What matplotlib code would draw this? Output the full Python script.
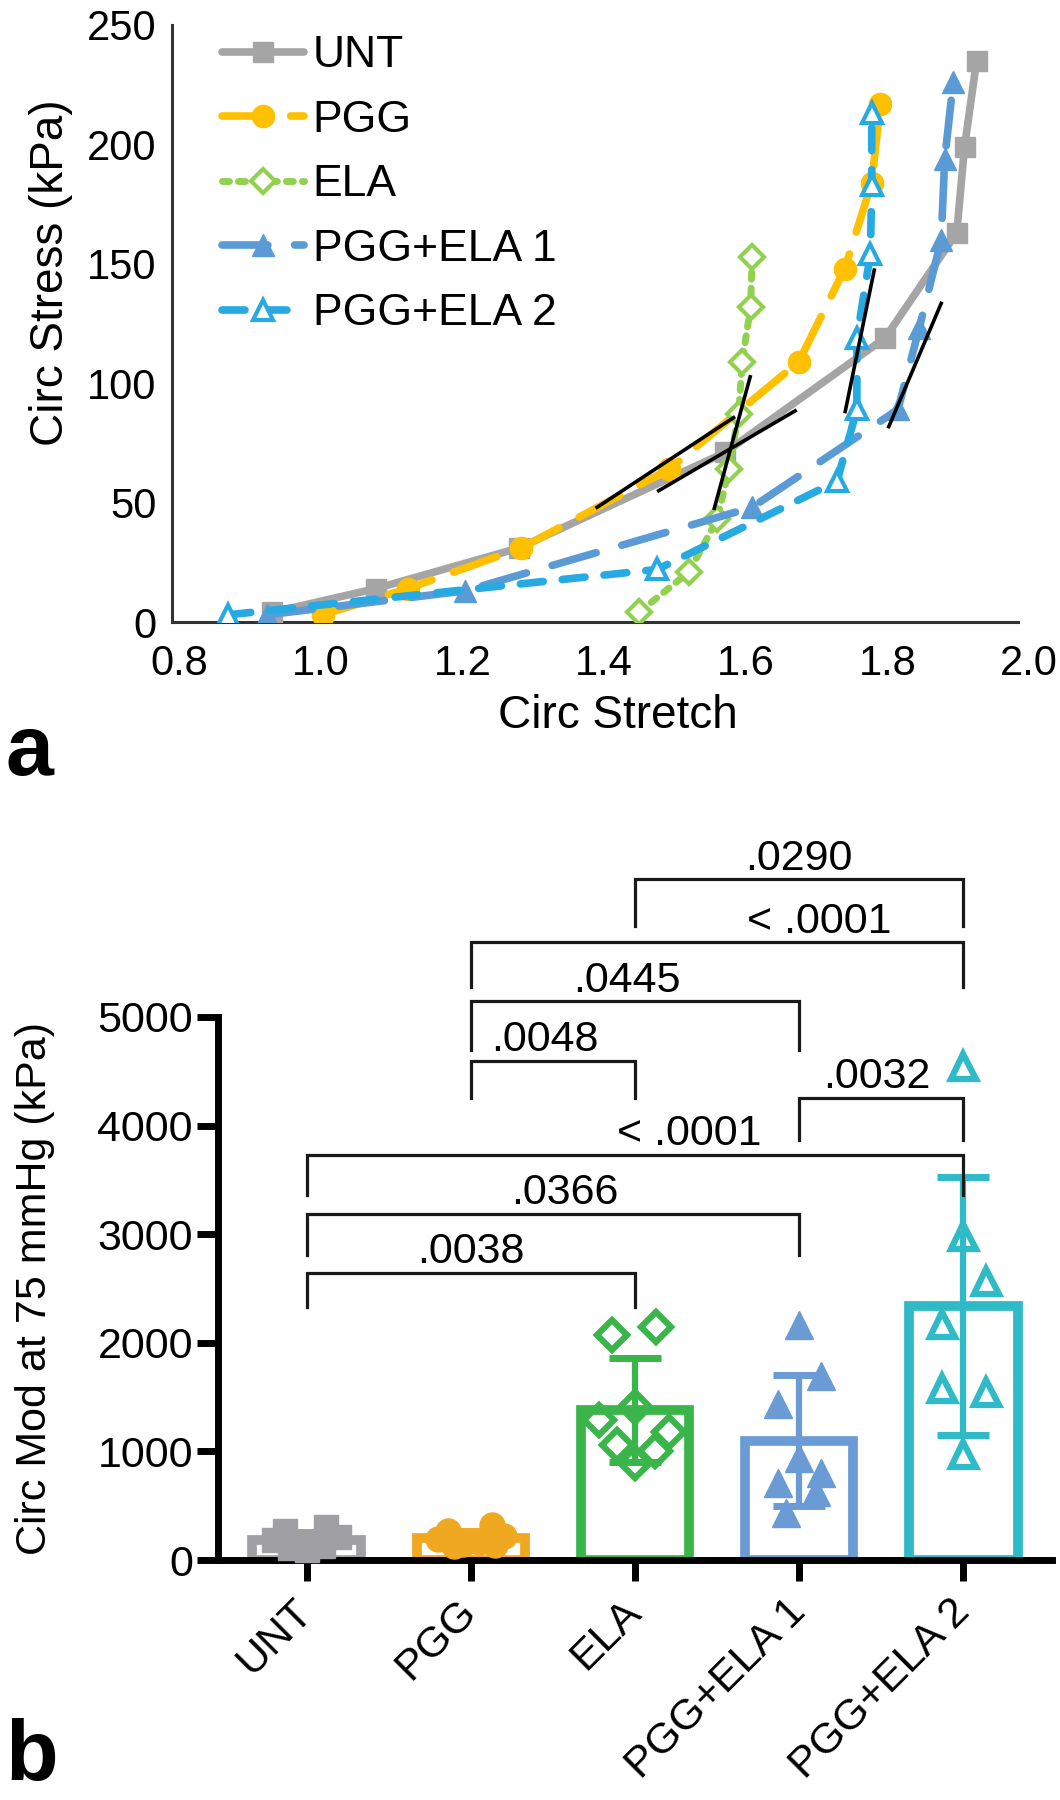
import matplotlib
matplotlib.use('Agg')
import matplotlib.pyplot as plt
import numpy as np

plt.rcParams['font.family'] = ['Liberation Sans', 'DejaVu Sans']

# ---------------- Panel a data ----------------
unt_x = [0.931, 1.078, 1.280, 1.571, 1.797, 1.898, 1.909, 1.926]
unt_y = [4, 14, 31, 71, 119, 163, 199, 235]
pgg_x = [1.003, 1.123, 1.283, 1.492, 1.675, 1.740, 1.778, 1.790]
pgg_y = [3, 14, 31, 64, 109, 148, 184, 217]
ela_x = [1.449, 1.520, 1.560, 1.576, 1.590, 1.595, 1.607, 1.609]
ela_y = [4, 21, 43, 64, 87, 109, 132, 153]
pe1_x = [0.924, 1.203, 1.609, 1.815, 1.845, 1.876, 1.881, 1.893]
pe1_y = [3, 13, 48, 89, 123, 160, 194, 226]
pe2_x = [0.869, 1.475, 1.729, 1.757, 1.757, 1.776, 1.778, 1.778]
pe2_y = [3, 22, 59, 89, 119, 154, 183, 213]
tangent_x = [[1.388, 1.585], [1.475, 1.672], [1.555, 1.607], [1.740, 1.782], [1.801, 1.877]]
tangent_y = [[47.6, 86.0], [54.6, 88.8], [46.9, 103.4], [87.4, 148.1], [81.1, 134.1]]
stretch_ticks = [0.8, 1.0, 1.2, 1.4, 1.6, 1.8, 2.0]
stress_ticks = [0, 50, 100, 150, 200, 250]

# ---------------- Panel b data ----------------
groups = ['UNT', 'PGG', 'ELA', 'PGG+ELA 1', 'PGG+ELA 2']
mod_unt = [300, 270, 210, 180, 150, 130, 110, 90]
mod_pgg = [320, 265, 220, 190, 170, 150, 140, 130]
mod_ela = [2150, 2070, 1410, 1290, 1180, 1060, 1000, 890]
mod_pe1 = [2160, 1690, 1440, 940, 800, 710, 630, 430]
mod_pe2 = [4550, 2980, 2570, 2170, 1580, 1550, 980]
mod_ticks = [0, 1000, 2000, 3000, 4000, 5000]

bracket_left = [2, 1, 1, 1, 3, 0, 0, 0]
bracket_right = [4, 4, 3, 2, 4, 4, 3, 2]
bracket_top = [6267, 5687, 5143, 4599, 4258, 3733, 3189, 2645]
bracket_foot = [5837, 5272, 4700, 4258, 3871, 3364, 2811, 2332]
bracket_text = ['.0290', '< .0001', '.0445', '.0048', '.0032', '< .0001', '.0366', '.0038']

# ---------------- layout / style (not data) ----------------
W, H = 1060, 1800
jitter = [
    [0.12, -0.13, 0.2, -0.2, 0.0, 0.1, -0.1, 0.0],
    [0.13, -0.14, 0.2, -0.2, 0.05, -0.05, 0.15, -0.1],
    [0.13, -0.14, 0.0, -0.22, 0.21, -0.11, 0.12, 0.0],
    [0.0, 0.13, -0.13, 0.0, 0.13, -0.13, 0.1, -0.08],
    [0.0, 0.0, 0.14, -0.13, -0.13, 0.14, 0.0],
]
label_x = [3.0, 3.12, 1.95, 1.45, 3.47, 2.33, 1.57, 1.0]

fig = plt.figure(figsize=(W / 100, H / 100), dpi=100)

# ================= Panel a =================
ax1 = fig.add_axes([172 / W, 1 - 622 / H, 857 / W, 597 / H])
ax1.set_xlim(0.79, 2.0)
ax1.set_ylim(0, 250)

ax1.plot(unt_x, unt_y, color='#A5A5A5', lw=5.5, marker='s', ms=15,
         solid_capstyle='round', label='UNT', zorder=3)
ax1.plot(pgg_x, pgg_y, color='#FFC000', lw=5.5, ls=(0, (6, 3)), marker='o', ms=16,
         dash_capstyle='round', label='PGG', zorder=3)
ax1.plot(ela_x, ela_y, color='#92D050', lw=5, ls=(0, (1, 1.3)), marker='D', ms=12,
         mfc='white', mec='#92D050', mew=3, dash_capstyle='round', label='ELA', zorder=3)
ax1.plot(pe1_x, pe1_y, color='#5B9BD5', lw=5.5, ls=(0, (6, 3.5)), marker='^', ms=16,
         dash_capstyle='round', label='PGG+ELA 1', zorder=3)
ax1.plot(pe2_x, pe2_y, color='#27AAE1', lw=5.5, ls=(0, (3, 2.5)), marker='^', ms=15,
         mfc='white', mec='#27AAE1', mew=3, dash_capstyle='round', label='PGG+ELA 2', zorder=3)
for tx, ty in zip(tangent_x, tangent_y):
    ax1.plot(tx, ty, color='black', lw=2.6, zorder=5, solid_capstyle='butt')

for s in ['top', 'right']:
    ax1.spines[s].set_visible(False)
for s in ['left', 'bottom']:
    ax1.spines[s].set_color('#333333')
    ax1.spines[s].set_linewidth(2.2)
ax1.spines['bottom'].set_bounds(0.79, 1.985)
ax1.set_xticks(stretch_ticks)
ax1.set_xticklabels(['%.1f' % v for v in stretch_ticks])
ax1.set_yticks(stress_ticks)
ax1.tick_params(axis='both', length=0, labelsize=30)
ax1.tick_params(axis='x', pad=16)
ax1.tick_params(axis='y', pad=11)
ax1.set_xlabel('Circ Stretch', fontsize=33)
ax1.xaxis.set_label_coords(0.52, -0.12)
ax1.set_ylabel('Circ Stress (kPa)', fontsize=33)
ax1.yaxis.set_label_coords(-0.1155, 0.585)

ax1.legend(loc='upper left', bbox_to_anchor=(0.058, 0.983), frameon=False,
           fontsize=32, handlelength=1.85, handletextpad=0.2, labelspacing=0.53,
           borderpad=0, borderaxespad=0, numpoints=1)

# ================= Panel b =================
ax2 = fig.add_axes([218 / W, 1 - 1560 / H, 834 / W, 543 / H])
ax2.set_xlim(-0.54, 4.54)
ax2.set_ylim(0, 5000)

colors = ['#A0A0A4', '#F0A821', '#3AB54A', '#6A9BD4', '#2EBAC6']
datasets = [mod_unt, mod_pgg, mod_ela, mod_pe1, mod_pe2]
markers = ['s', 'o', 'D', '^', '^']
filled = [True, True, False, True, False]
msizes = [17, 18, 15, 20, 18]
xpos = np.arange(len(groups))
means = [np.mean(d) for d in datasets]
sds = [np.std(d, ddof=1) for d in datasets]

ax2.bar(xpos, means, width=0.66, facecolor='white', edgecolor=colors,
        linewidth=7, zorder=2)
for i, (m, s, c) in enumerate(zip(means, sds, colors)):
    ax2.errorbar(i, m, yerr=s, color=c, elinewidth=4.5, capsize=19, capthick=5,
                 zorder=3)
for i, (d, c) in enumerate(zip(datasets, colors)):
    xs = i + np.array(jitter[i])
    if filled[i]:
        ax2.plot(xs, d, ls='none', marker=markers[i], ms=msizes[i], mfc=c, mec=c,
                 mew=1, zorder=4, clip_on=False)
    else:
        ax2.plot(xs, d, ls='none', marker=markers[i], ms=msizes[i], mfc='none', mec=c,
                 mew=4.5, zorder=4, clip_on=False)

for l, r, top, foot, txt, lx in zip(bracket_left, bracket_right, bracket_top,
                                     bracket_foot, bracket_text, label_x):
    ax2.plot([l, l, r, r], [foot, top, top, foot], color='#1a1a1a', lw=2.3,
             clip_on=False, zorder=5, solid_joinstyle='miter')
    ax2.annotate(txt, xy=(lx, top), xytext=(0, 7), textcoords='offset points',
                 ha='center', va='baseline', fontsize=31, annotation_clip=False)

for s in ['top', 'right']:
    ax2.spines[s].set_visible(False)
for s in ['left', 'bottom']:
    ax2.spines[s].set_color('black')
    ax2.spines[s].set_linewidth(5)
ax2.set_yticks(mod_ticks)
ax2.set_xticks(xpos)
ax2.set_xticklabels(groups)
ax2.tick_params(axis='both', direction='out', length=15, width=5, labelsize=31)
ax2.tick_params(axis='y', pad=3)
ax2.tick_params(axis='x', pad=18)
plt.setp(ax2.get_xticklabels(), rotation=45, ha='right', va='center',
         rotation_mode='anchor')
ax2.set_ylabel('Circ Mod at 75 mmHg (kPa)', fontsize=31)
ax2.yaxis.set_label_coords(-0.195, 0.5)

fig.text(5 / W, 1 - 775 / H, 'a', fontsize=62, fontweight='bold', va='baseline')
fig.text(5 / W, 1 - 1780 / H, 'b', fontsize=62, fontweight='bold', va='baseline')

fig.savefig('out.png', dpi=100)
